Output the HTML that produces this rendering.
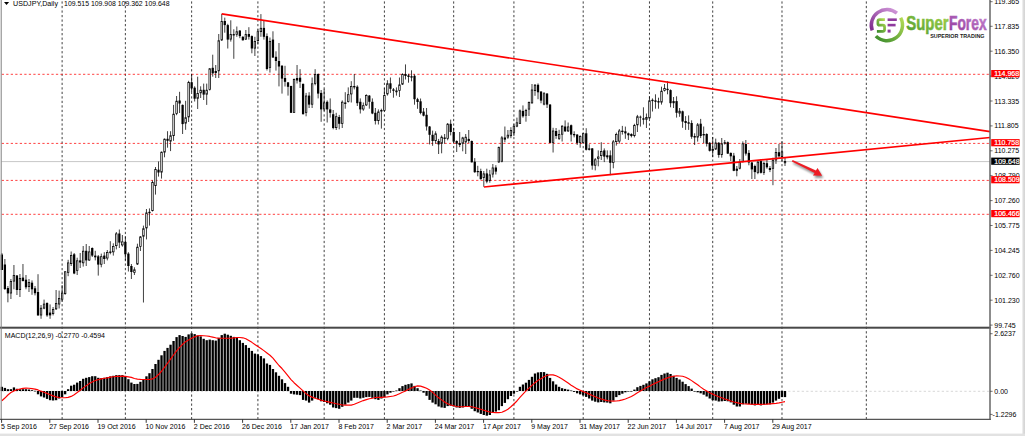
<!DOCTYPE html>
<html><head><meta charset="utf-8"><title>USDJPY Daily</title>
<style>html,body{margin:0;padding:0;background:#fff;overflow:hidden}svg{display:block}</style></head>
<body>
<svg width="1025" height="436" viewBox="0 0 1025 436" font-family="Liberation Sans, sans-serif" font-size="7.03">
<defs>
<linearGradient id="gp" x1="0" y1="1" x2="1" y2="0"><stop offset="0" stop-color="#7d2a8c"/><stop offset="1" stop-color="#d39adb"/></linearGradient>
<linearGradient id="gg" x1="0" y1="1" x2="1" y2="0"><stop offset="0" stop-color="#3a8a2c"/><stop offset="1" stop-color="#b4dc55"/></linearGradient>
<linearGradient id="tg" x1="0" y1="1" x2="1" y2="0"><stop offset="0" stop-color="#4c9a2e"/><stop offset="1" stop-color="#a9d64c"/></linearGradient>
<linearGradient id="tp" x1="0" y1="1" x2="1" y2="0"><stop offset="0" stop-color="#8d3399"/><stop offset="1" stop-color="#c988d2"/></linearGradient>
<linearGradient id="rs" x1="0" y1="0" x2="1" y2="0"><stop offset="0" stop-color="#fff"/><stop offset="0.5" stop-color="#ddd"/><stop offset="1" stop-color="#d4d4d4"/></linearGradient>
<filter id="sh" x="-20%" y="-50%" width="140%" height="200%"><feGaussianBlur stdDeviation="1.1"/></filter>
<filter id="bl"><feGaussianBlur stdDeviation="0.35"/></filter>
</defs>
<rect width="1025" height="436" fill="#fff"/>
<g id="chart">
<rect x="1021.6" y="0" width="3.4" height="436" fill="url(#rs)"/>
<rect x="0" y="433.6" width="1025" height="2.4" fill="#e2e2e2"/>
<line x1="62.12" y1="1.4" x2="62.12" y2="419.4" stroke="#000" stroke-width="0.75" stroke-dasharray="2.26 2.258"/>
<line x1="125.37" y1="1.4" x2="125.37" y2="419.4" stroke="#000" stroke-width="0.75" stroke-dasharray="2.26 2.258"/>
<line x1="191.64" y1="1.4" x2="191.64" y2="419.4" stroke="#000" stroke-width="0.75" stroke-dasharray="2.26 2.258"/>
<line x1="257.9" y1="1.4" x2="257.9" y2="419.4" stroke="#000" stroke-width="0.75" stroke-dasharray="2.26 2.258"/>
<line x1="324.16" y1="1.4" x2="324.16" y2="419.4" stroke="#000" stroke-width="0.75" stroke-dasharray="2.26 2.258"/>
<line x1="384.4" y1="1.4" x2="384.4" y2="419.4" stroke="#000" stroke-width="0.75" stroke-dasharray="2.26 2.258"/>
<line x1="453.68" y1="1.4" x2="453.68" y2="419.4" stroke="#000" stroke-width="0.75" stroke-dasharray="2.26 2.258"/>
<line x1="513.92" y1="1.4" x2="513.92" y2="419.4" stroke="#000" stroke-width="0.75" stroke-dasharray="2.26 2.258"/>
<line x1="583.2" y1="1.4" x2="583.2" y2="419.4" stroke="#000" stroke-width="0.75" stroke-dasharray="2.26 2.258"/>
<line x1="649.46" y1="1.4" x2="649.46" y2="419.4" stroke="#000" stroke-width="0.75" stroke-dasharray="2.26 2.258"/>
<line x1="712.71" y1="1.4" x2="712.71" y2="419.4" stroke="#000" stroke-width="0.75" stroke-dasharray="2.26 2.258"/>
<line x1="781.99" y1="1.4" x2="781.99" y2="419.4" stroke="#000" stroke-width="0.75" stroke-dasharray="2.26 2.258"/>
<line x1="866.32" y1="1.4" x2="866.32" y2="419.4" stroke="#000" stroke-width="0.75" stroke-dasharray="2.26 2.258"/>
<line x1="2" y1="391.3" x2="990.0" y2="391.3" stroke="#c8c8c8" stroke-width="0.75" stroke-dasharray="2.26 2.258"/>
<line x1="1.5" y1="161.6" x2="990.0" y2="161.6" stroke="#b4b4b4" stroke-width="0.75"/>
<line x1="1.7" y1="74.3" x2="990.0" y2="74.3" stroke="#f00" stroke-width="0.75" stroke-dasharray="2.26 2.258"/>
<line x1="1.7" y1="143.4" x2="990.0" y2="143.4" stroke="#f00" stroke-width="0.75" stroke-dasharray="2.26 2.258"/>
<line x1="1.7" y1="180.4" x2="990.0" y2="180.4" stroke="#f00" stroke-width="0.75" stroke-dasharray="2.26 2.258"/>
<line x1="1.7" y1="214.3" x2="990.0" y2="214.3" stroke="#f00" stroke-width="0.75" stroke-dasharray="2.26 2.258"/>
<g stroke="#000" stroke-width="0.75">
<line x1="1.88" y1="253" x2="1.88" y2="270"/>
<rect x="0.75" y="254.5" width="2.26" height="15.5" fill="#000" stroke="none"/>
<line x1="4.89" y1="259" x2="4.89" y2="290"/>
<rect x="3.76" y="264.5" width="2.26" height="24.5" fill="#000" stroke="none"/>
<line x1="7.9" y1="286" x2="7.9" y2="302.3"/>
<rect x="6.77" y="288" width="2.26" height="5.4" fill="#000" stroke="none"/>
<line x1="10.92" y1="279" x2="10.92" y2="299"/>
<rect x="10.16" y="281.38" width="1.51" height="11.65" fill="#fff"/>
<line x1="13.93" y1="265" x2="13.93" y2="289.3"/>
<rect x="13.17" y="275.38" width="1.51" height="5.75" fill="#fff"/>
<line x1="16.94" y1="275" x2="16.94" y2="295"/>
<rect x="15.81" y="275.5" width="2.26" height="14.5" fill="#000" stroke="none"/>
<line x1="19.95" y1="274" x2="19.95" y2="297"/>
<rect x="19.2" y="278.38" width="1.51" height="11.25" fill="#fff"/>
<line x1="22.96" y1="264" x2="22.96" y2="281.5"/>
<rect x="21.83" y="277.6" width="2.26" height="3.4" fill="#000" stroke="none"/>
<line x1="25.98" y1="275" x2="25.98" y2="289.3"/>
<rect x="24.85" y="279.7" width="2.26" height="7.6" fill="#000" stroke="none"/>
<line x1="28.99" y1="279" x2="28.99" y2="292"/>
<rect x="28.23" y="282.38" width="1.51" height="4.25" fill="#fff"/>
<line x1="32" y1="280.4" x2="32" y2="294.8"/>
<rect x="30.87" y="282.7" width="2.26" height="6.6" fill="#000" stroke="none"/>
<line x1="35.01" y1="286" x2="35.01" y2="295.4"/>
<rect x="33.88" y="288.3" width="2.26" height="4.9" fill="#000" stroke="none"/>
<line x1="38.02" y1="274.2" x2="38.02" y2="315.8"/>
<rect x="36.89" y="292" width="2.26" height="23.4" fill="#000" stroke="none"/>
<line x1="41.04" y1="305" x2="41.04" y2="318.8"/>
<rect x="40.28" y="308.18" width="1.51" height="6.85" fill="#fff"/>
<line x1="44.05" y1="299.6" x2="44.05" y2="309.2"/>
<rect x="43.29" y="304.08" width="1.51" height="4.05" fill="#fff"/>
<line x1="47.06" y1="302.3" x2="47.06" y2="316.8"/>
<rect x="45.93" y="303" width="2.26" height="12.4" fill="#000" stroke="none"/>
<line x1="50.07" y1="304.4" x2="50.07" y2="318.8"/>
<rect x="48.94" y="312.6" width="2.26" height="2.8" fill="#000" stroke="none"/>
<line x1="53.08" y1="307" x2="53.08" y2="315.4"/>
<rect x="52.33" y="309.58" width="1.51" height="4.05" fill="#fff"/>
<line x1="56.1" y1="290" x2="56.1" y2="310"/>
<rect x="55.34" y="303.38" width="1.51" height="5.45" fill="#fff"/>
<line x1="59.11" y1="290.6" x2="59.11" y2="308.5"/>
<rect x="58.35" y="298.58" width="1.51" height="5.45" fill="#fff"/>
<line x1="62.12" y1="285" x2="62.12" y2="301.6"/>
<rect x="61.37" y="293.08" width="1.51" height="6.15" fill="#fff"/>
<line x1="65.13" y1="271" x2="65.13" y2="294.8"/>
<rect x="64.38" y="271.78" width="1.51" height="21.85" fill="#fff"/>
<line x1="68.14" y1="259.8" x2="68.14" y2="276.2"/>
<rect x="67.39" y="262.88" width="1.51" height="9.55" fill="#fff"/>
<line x1="71.16" y1="251.5" x2="71.16" y2="266"/>
<rect x="70.4" y="255.38" width="1.51" height="8.25" fill="#fff"/>
<line x1="74.17" y1="253" x2="74.17" y2="274.2"/>
<rect x="73.04" y="254.3" width="2.26" height="19.2" fill="#000" stroke="none"/>
<line x1="77.18" y1="257.7" x2="77.18" y2="275"/>
<rect x="76.43" y="260.78" width="1.51" height="9.65" fill="#fff"/>
<line x1="80.19" y1="253" x2="80.19" y2="268"/>
<rect x="79.06" y="260.4" width="2.26" height="2.1" fill="#000" stroke="none"/>
<line x1="83.2" y1="246" x2="83.2" y2="266.6"/>
<rect x="82.45" y="251.18" width="1.51" height="11.65" fill="#fff"/>
<line x1="86.22" y1="244" x2="86.22" y2="266"/>
<rect x="85.09" y="250.8" width="2.26" height="9.6" fill="#000" stroke="none"/>
<line x1="89.23" y1="246" x2="89.23" y2="261"/>
<rect x="88.47" y="251.88" width="1.51" height="8.15" fill="#fff"/>
<line x1="92.24" y1="247.4" x2="92.24" y2="257"/>
<rect x="91.11" y="248" width="2.26" height="7.6" fill="#000" stroke="none"/>
<line x1="95.25" y1="250.8" x2="95.25" y2="260.4"/>
<rect x="94.12" y="255.6" width="2.26" height="1.7" fill="#000" stroke="none"/>
<line x1="98.26" y1="255" x2="98.26" y2="275.6"/>
<rect x="97.13" y="256.3" width="2.26" height="8.3" fill="#000" stroke="none"/>
<line x1="101.28" y1="253.6" x2="101.28" y2="267.3"/>
<rect x="100.52" y="256.68" width="1.51" height="7.55" fill="#fff"/>
<line x1="104.29" y1="252.2" x2="104.29" y2="264"/>
<rect x="103.16" y="255.6" width="2.26" height="3.4" fill="#000" stroke="none"/>
<line x1="107.3" y1="250" x2="107.3" y2="260.4"/>
<rect x="106.55" y="252.58" width="1.51" height="5.45" fill="#fff"/>
<line x1="110.31" y1="241.2" x2="110.31" y2="254.3"/>
<rect x="109.18" y="251.5" width="2.26" height="1.4" fill="#000" stroke="none"/>
<line x1="113.32" y1="243.3" x2="113.32" y2="255.6"/>
<rect x="112.57" y="246.38" width="1.51" height="5.45" fill="#fff"/>
<line x1="116.34" y1="232" x2="116.34" y2="249.4"/>
<rect x="115.58" y="233.88" width="1.51" height="11.75" fill="#fff"/>
<line x1="119.35" y1="229.5" x2="119.35" y2="248"/>
<rect x="118.22" y="233.5" width="2.26" height="9.1" fill="#000" stroke="none"/>
<line x1="122.36" y1="235" x2="122.36" y2="246.7"/>
<rect x="121.61" y="241.88" width="1.51" height="3.05" fill="#fff"/>
<line x1="125.37" y1="236.4" x2="125.37" y2="260.4"/>
<rect x="124.24" y="241.9" width="2.26" height="12.4" fill="#000" stroke="none"/>
<line x1="128.38" y1="252.2" x2="128.38" y2="271.5"/>
<rect x="127.25" y="253.6" width="2.26" height="12.4" fill="#000" stroke="none"/>
<line x1="131.4" y1="264" x2="131.4" y2="279"/>
<rect x="130.27" y="266" width="2.26" height="6" fill="#000" stroke="none"/>
<line x1="134.41" y1="267.3" x2="134.41" y2="275"/>
<rect x="133.65" y="269.78" width="1.51" height="2.65" fill="#fff"/>
<line x1="137.42" y1="243.7" x2="137.42" y2="265"/>
<rect x="136.67" y="247.18" width="1.51" height="16.85" fill="#fff"/>
<line x1="140.43" y1="236" x2="140.43" y2="251"/>
<rect x="139.68" y="236.88" width="1.51" height="9.55" fill="#fff"/>
<line x1="143.44" y1="225.6" x2="143.44" y2="302.5"/>
<rect x="142.69" y="228.68" width="1.51" height="7.55" fill="#fff"/>
<line x1="146.46" y1="209" x2="146.46" y2="239.4"/>
<rect x="145.7" y="212.88" width="1.51" height="15.05" fill="#fff"/>
<line x1="149.47" y1="208.4" x2="149.47" y2="225.6"/>
<rect x="148.34" y="211.8" width="2.26" height="1.4" fill="#000" stroke="none"/>
<line x1="152.48" y1="180.5" x2="152.48" y2="211.5"/>
<rect x="151.73" y="182.38" width="1.51" height="28.25" fill="#fff"/>
<line x1="155.49" y1="167" x2="155.49" y2="194.6"/>
<rect x="154.74" y="169.38" width="1.51" height="16.25" fill="#fff"/>
<line x1="158.5" y1="161.5" x2="158.5" y2="176.6"/>
<rect x="157.37" y="169.7" width="2.26" height="2.8" fill="#000" stroke="none"/>
<line x1="161.52" y1="151.5" x2="161.52" y2="178.6"/>
<rect x="160.76" y="152.18" width="1.51" height="19.95" fill="#fff"/>
<line x1="164.53" y1="138.5" x2="164.53" y2="157.3"/>
<rect x="163.77" y="139.18" width="1.51" height="12.95" fill="#fff"/>
<line x1="167.54" y1="131.2" x2="167.54" y2="147.7"/>
<rect x="166.41" y="138.8" width="2.26" height="2" fill="#000" stroke="none"/>
<line x1="170.55" y1="131.2" x2="170.55" y2="151.1"/>
<rect x="169.8" y="135.68" width="1.51" height="5.45" fill="#fff"/>
<line x1="173.56" y1="104.9" x2="173.56" y2="140.8"/>
<rect x="172.81" y="114.18" width="1.51" height="21.45" fill="#fff"/>
<line x1="176.58" y1="96" x2="176.58" y2="115.2"/>
<rect x="175.82" y="101.18" width="1.51" height="12.25" fill="#fff"/>
<line x1="179.59" y1="91.8" x2="179.59" y2="113"/>
<rect x="178.46" y="100.5" width="2.26" height="3" fill="#000" stroke="none"/>
<line x1="182.6" y1="104.5" x2="182.6" y2="134"/>
<rect x="181.47" y="104.9" width="2.26" height="19.2" fill="#000" stroke="none"/>
<line x1="185.61" y1="100.8" x2="185.61" y2="129.8"/>
<rect x="184.86" y="117.68" width="1.51" height="5.45" fill="#fff"/>
<line x1="188.62" y1="80.8" x2="188.62" y2="122"/>
<rect x="187.87" y="82.58" width="1.51" height="34.35" fill="#fff"/>
<line x1="191.64" y1="74" x2="191.64" y2="92"/>
<rect x="190.51" y="82.2" width="2.26" height="6.2" fill="#000" stroke="none"/>
<line x1="194.65" y1="86.3" x2="194.65" y2="101.5"/>
<rect x="193.52" y="87.7" width="2.26" height="11" fill="#000" stroke="none"/>
<line x1="197.66" y1="76.7" x2="197.66" y2="109"/>
<rect x="196.91" y="93.58" width="1.51" height="4.75" fill="#fff"/>
<line x1="200.67" y1="86.3" x2="200.67" y2="98"/>
<rect x="199.92" y="90.18" width="1.51" height="2.65" fill="#fff"/>
<line x1="203.68" y1="83.6" x2="203.68" y2="100"/>
<rect x="202.55" y="89.8" width="2.26" height="4.8" fill="#000" stroke="none"/>
<line x1="206.7" y1="83.6" x2="206.7" y2="104.9"/>
<rect x="205.94" y="90.18" width="1.51" height="4.05" fill="#fff"/>
<line x1="209.71" y1="68" x2="209.71" y2="90.5"/>
<rect x="208.95" y="68.78" width="1.51" height="20.65" fill="#fff"/>
<line x1="212.72" y1="54.7" x2="212.72" y2="76.7"/>
<rect x="211.59" y="67.8" width="2.26" height="5.5" fill="#000" stroke="none"/>
<line x1="215.73" y1="65" x2="215.73" y2="78"/>
<rect x="214.6" y="71" width="2.26" height="2" fill="#000" stroke="none"/>
<line x1="218.74" y1="34" x2="218.74" y2="78"/>
<rect x="217.99" y="40.68" width="1.51" height="30.15" fill="#fff"/>
<line x1="221.76" y1="13.9" x2="221.76" y2="41"/>
<rect x="221" y="21.38" width="1.51" height="18.55" fill="#fff"/>
<line x1="224.77" y1="17.6" x2="224.77" y2="32.7"/>
<rect x="223.64" y="21" width="2.26" height="4.1" fill="#000" stroke="none"/>
<line x1="227.78" y1="23.8" x2="227.78" y2="48.5"/>
<rect x="226.65" y="25.1" width="2.26" height="14.5" fill="#000" stroke="none"/>
<line x1="230.79" y1="20.3" x2="230.79" y2="41.6"/>
<rect x="230.04" y="34.38" width="1.51" height="4.85" fill="#fff"/>
<line x1="233.8" y1="29.3" x2="233.8" y2="58.8"/>
<rect x="233.05" y="34.38" width="1.51" height="0.75" fill="#fff"/>
<line x1="236.82" y1="26.5" x2="236.82" y2="36.8"/>
<rect x="236.06" y="31.68" width="1.51" height="2.75" fill="#fff"/>
<line x1="239.83" y1="30" x2="239.83" y2="38.2"/>
<rect x="238.7" y="30.6" width="2.26" height="5.5" fill="#000" stroke="none"/>
<line x1="242.84" y1="36.2" x2="242.84" y2="40.5"/>
<rect x="241.71" y="36.8" width="2.26" height="3.5" fill="#000" stroke="none"/>
<line x1="245.85" y1="30" x2="245.85" y2="39.8"/>
<rect x="245.1" y="34.38" width="1.51" height="4.85" fill="#fff"/>
<line x1="248.86" y1="27.2" x2="248.86" y2="39.6"/>
<rect x="247.73" y="34" width="2.26" height="2.8" fill="#000" stroke="none"/>
<line x1="251.88" y1="35.4" x2="251.88" y2="53.3"/>
<rect x="250.75" y="36.1" width="2.26" height="12.4" fill="#000" stroke="none"/>
<line x1="254.89" y1="36.8" x2="254.89" y2="56"/>
<rect x="254.13" y="41.38" width="1.51" height="6.75" fill="#fff"/>
<line x1="257.9" y1="29.3" x2="257.9" y2="44.4"/>
<rect x="257.15" y="31.68" width="1.51" height="8.95" fill="#fff"/>
<line x1="260.91" y1="14.1" x2="260.91" y2="36.8"/>
<rect x="260.16" y="28.28" width="1.51" height="3.35" fill="#fff"/>
<line x1="263.92" y1="20.3" x2="263.92" y2="39.6"/>
<rect x="262.79" y="27.9" width="2.26" height="8.9" fill="#000" stroke="none"/>
<line x1="266.94" y1="33.4" x2="266.94" y2="70.5"/>
<rect x="265.81" y="36.1" width="2.26" height="32.9" fill="#000" stroke="none"/>
<line x1="269.95" y1="37.5" x2="269.95" y2="72.6"/>
<rect x="269.19" y="41.38" width="1.51" height="26.05" fill="#fff"/>
<line x1="272.96" y1="31.3" x2="272.96" y2="58"/>
<rect x="271.83" y="39.6" width="2.26" height="17.9" fill="#000" stroke="none"/>
<line x1="275.97" y1="51.3" x2="275.97" y2="70.6"/>
<rect x="274.84" y="56.8" width="2.26" height="4.2" fill="#000" stroke="none"/>
<line x1="278.98" y1="43" x2="278.98" y2="86.4"/>
<rect x="277.85" y="61" width="2.26" height="5.5" fill="#000" stroke="none"/>
<line x1="282" y1="65" x2="282" y2="93.6"/>
<rect x="280.87" y="65.8" width="2.26" height="12.8" fill="#000" stroke="none"/>
<line x1="285.01" y1="65.8" x2="285.01" y2="86.5"/>
<rect x="283.88" y="78" width="2.26" height="3.8" fill="#000" stroke="none"/>
<line x1="288.02" y1="82" x2="288.02" y2="95.6"/>
<rect x="286.89" y="82.4" width="2.26" height="4.4" fill="#000" stroke="none"/>
<line x1="291.03" y1="85.7" x2="291.03" y2="113"/>
<rect x="289.9" y="86" width="2.26" height="26.8" fill="#000" stroke="none"/>
<line x1="294.04" y1="78.5" x2="294.04" y2="113"/>
<rect x="293.29" y="79.38" width="1.51" height="33.05" fill="#fff"/>
<line x1="297.06" y1="65" x2="297.06" y2="83.5"/>
<rect x="295.93" y="78" width="2.26" height="2.5" fill="#000" stroke="none"/>
<line x1="300.07" y1="69.2" x2="300.07" y2="88"/>
<rect x="298.94" y="77.7" width="2.26" height="4.1" fill="#000" stroke="none"/>
<line x1="303.08" y1="83.5" x2="303.08" y2="114.5"/>
<rect x="301.95" y="83.9" width="2.26" height="30.3" fill="#000" stroke="none"/>
<line x1="306.09" y1="92.9" x2="306.09" y2="116.3"/>
<rect x="305.34" y="95.98" width="1.51" height="16.45" fill="#fff"/>
<line x1="309.1" y1="92.2" x2="309.1" y2="108"/>
<rect x="307.97" y="95.6" width="2.26" height="9" fill="#000" stroke="none"/>
<line x1="312.12" y1="77.5" x2="312.12" y2="108"/>
<rect x="311.36" y="83.78" width="1.51" height="20.45" fill="#fff"/>
<line x1="315.13" y1="69.2" x2="315.13" y2="85.3"/>
<rect x="314.37" y="74.38" width="1.51" height="9.05" fill="#fff"/>
<line x1="318.14" y1="73.5" x2="318.14" y2="98.4"/>
<rect x="317.01" y="74" width="2.26" height="19.6" fill="#000" stroke="none"/>
<line x1="321.15" y1="90" x2="321.15" y2="121.8"/>
<rect x="320.02" y="92.9" width="2.26" height="16.5" fill="#000" stroke="none"/>
<line x1="324.16" y1="88.8" x2="324.16" y2="111"/>
<rect x="323.41" y="102.88" width="1.51" height="6.15" fill="#fff"/>
<line x1="327.18" y1="100.4" x2="327.18" y2="122.5"/>
<rect x="326.05" y="101.8" width="2.26" height="7.6" fill="#000" stroke="none"/>
<line x1="330.19" y1="98.4" x2="330.19" y2="117.6"/>
<rect x="329.06" y="109.4" width="2.26" height="3.4" fill="#000" stroke="none"/>
<line x1="333.2" y1="110" x2="333.2" y2="129.3"/>
<rect x="332.07" y="114.2" width="2.26" height="13.8" fill="#000" stroke="none"/>
<line x1="336.21" y1="112.8" x2="336.21" y2="130"/>
<rect x="335.46" y="116.68" width="1.51" height="10.95" fill="#fff"/>
<line x1="339.22" y1="114.9" x2="339.22" y2="129.3"/>
<rect x="338.09" y="117" width="2.26" height="6.8" fill="#000" stroke="none"/>
<line x1="342.24" y1="100.4" x2="342.24" y2="128"/>
<rect x="341.48" y="102.18" width="1.51" height="21.25" fill="#fff"/>
<line x1="345.25" y1="92.2" x2="345.25" y2="108.7"/>
<rect x="344.12" y="102.5" width="2.26" height="1.4" fill="#000" stroke="none"/>
<line x1="348.26" y1="87.4" x2="348.26" y2="102.5"/>
<rect x="347.51" y="94.68" width="1.51" height="6.75" fill="#fff"/>
<line x1="351.27" y1="81.2" x2="351.27" y2="102.5"/>
<rect x="350.52" y="86.38" width="1.51" height="7.55" fill="#fff"/>
<line x1="354.28" y1="74" x2="354.28" y2="89.4"/>
<rect x="353.15" y="86" width="2.26" height="1.4" fill="#000" stroke="none"/>
<line x1="357.3" y1="85.3" x2="357.3" y2="106"/>
<rect x="356.17" y="86.7" width="2.26" height="16.5" fill="#000" stroke="none"/>
<line x1="360.31" y1="98.4" x2="360.31" y2="113.5"/>
<rect x="359.18" y="101.8" width="2.26" height="7.6" fill="#000" stroke="none"/>
<line x1="363.32" y1="102.5" x2="363.32" y2="110.8"/>
<rect x="362.57" y="105.68" width="1.51" height="3.35" fill="#fff"/>
<line x1="366.33" y1="94.3" x2="366.33" y2="106"/>
<rect x="365.58" y="95.38" width="1.51" height="9.55" fill="#fff"/>
<line x1="369.34" y1="95" x2="369.34" y2="108.7"/>
<rect x="368.21" y="95.6" width="2.26" height="6.2" fill="#000" stroke="none"/>
<line x1="372.36" y1="98.4" x2="372.36" y2="114.2"/>
<rect x="371.23" y="101.8" width="2.26" height="11.7" fill="#000" stroke="none"/>
<line x1="375.37" y1="108" x2="375.37" y2="124.5"/>
<rect x="374.24" y="112.8" width="2.26" height="8.2" fill="#000" stroke="none"/>
<line x1="378.38" y1="109.4" x2="378.38" y2="124.5"/>
<rect x="377.63" y="111.88" width="1.51" height="8.75" fill="#fff"/>
<line x1="381.39" y1="108.7" x2="381.39" y2="128.6"/>
<rect x="380.26" y="110" width="2.26" height="1.5" fill="#000" stroke="none"/>
<line x1="384.4" y1="88" x2="384.4" y2="111.5"/>
<rect x="383.65" y="95.38" width="1.51" height="15.05" fill="#fff"/>
<line x1="387.42" y1="80.2" x2="387.42" y2="95.6"/>
<rect x="386.66" y="83.68" width="1.51" height="10.25" fill="#fff"/>
<line x1="390.43" y1="77.5" x2="390.43" y2="92.9"/>
<rect x="389.3" y="83.3" width="2.26" height="5.5" fill="#000" stroke="none"/>
<line x1="393.44" y1="88" x2="393.44" y2="97.7"/>
<rect x="392.31" y="89.4" width="2.26" height="1.4" fill="#000" stroke="none"/>
<line x1="396.45" y1="87.4" x2="396.45" y2="95.6"/>
<rect x="395.7" y="90.88" width="1.51" height="0.95" fill="#fff"/>
<line x1="399.46" y1="77.5" x2="399.46" y2="97"/>
<rect x="398.71" y="84.88" width="1.51" height="5.55" fill="#fff"/>
<line x1="402.48" y1="73.3" x2="402.48" y2="85"/>
<rect x="401.72" y="74.38" width="1.51" height="9.75" fill="#fff"/>
<line x1="405.49" y1="64.4" x2="405.49" y2="79.5"/>
<rect x="404.36" y="74" width="2.26" height="2" fill="#000" stroke="none"/>
<line x1="408.5" y1="73.8" x2="408.5" y2="82.7"/>
<rect x="407.37" y="75.4" width="2.26" height="1.6" fill="#000" stroke="none"/>
<line x1="411.51" y1="70.3" x2="411.51" y2="81.3"/>
<rect x="410.38" y="76.2" width="2.26" height="1.4" fill="#000" stroke="none"/>
<line x1="414.52" y1="74.4" x2="414.52" y2="104.7"/>
<rect x="413.39" y="75.8" width="2.26" height="23.4" fill="#000" stroke="none"/>
<line x1="417.54" y1="97.8" x2="417.54" y2="108.8"/>
<rect x="416.41" y="99.2" width="2.26" height="2.8" fill="#000" stroke="none"/>
<line x1="420.55" y1="98.5" x2="420.55" y2="114.3"/>
<rect x="419.42" y="101.3" width="2.26" height="11.7" fill="#000" stroke="none"/>
<line x1="423.56" y1="108" x2="423.56" y2="116.4"/>
<rect x="422.43" y="111.6" width="2.26" height="4.1" fill="#000" stroke="none"/>
<line x1="426.57" y1="108" x2="426.57" y2="130.6"/>
<rect x="425.44" y="114.8" width="2.26" height="11.7" fill="#000" stroke="none"/>
<line x1="429.58" y1="126" x2="429.58" y2="144.4"/>
<rect x="428.45" y="126.5" width="2.26" height="8.3" fill="#000" stroke="none"/>
<line x1="432.6" y1="130.6" x2="432.6" y2="145.8"/>
<rect x="431.47" y="134.8" width="2.26" height="6.2" fill="#000" stroke="none"/>
<line x1="435.61" y1="131.3" x2="435.61" y2="143.7"/>
<rect x="434.85" y="133.78" width="1.51" height="6.85" fill="#fff"/>
<line x1="438.62" y1="138.9" x2="438.62" y2="154"/>
<rect x="437.49" y="141" width="2.26" height="3.4" fill="#000" stroke="none"/>
<line x1="441.63" y1="135.4" x2="441.63" y2="153.3"/>
<rect x="440.88" y="137.18" width="1.51" height="6.15" fill="#fff"/>
<line x1="444.64" y1="134" x2="444.64" y2="143.7"/>
<rect x="443.51" y="137.5" width="2.26" height="1.4" fill="#000" stroke="none"/>
<line x1="447.66" y1="123" x2="447.66" y2="140.3"/>
<rect x="446.9" y="124.18" width="1.51" height="14.35" fill="#fff"/>
<line x1="450.67" y1="119.6" x2="450.67" y2="135.4"/>
<rect x="449.54" y="123.8" width="2.26" height="8.2" fill="#000" stroke="none"/>
<line x1="453.68" y1="127.9" x2="453.68" y2="143"/>
<rect x="452.55" y="132" width="2.26" height="9.6" fill="#000" stroke="none"/>
<line x1="456.69" y1="140.3" x2="456.69" y2="152"/>
<rect x="455.56" y="141" width="2.26" height="2.7" fill="#000" stroke="none"/>
<line x1="459.7" y1="132" x2="459.7" y2="147.1"/>
<rect x="458.57" y="143" width="2.26" height="2" fill="#000" stroke="none"/>
<line x1="462.72" y1="136.8" x2="462.72" y2="151.3"/>
<rect x="461.96" y="137.88" width="1.51" height="5.45" fill="#fff"/>
<line x1="465.73" y1="134" x2="465.73" y2="154"/>
<rect x="464.97" y="137.18" width="1.51" height="4.75" fill="#fff"/>
<line x1="468.74" y1="130" x2="468.74" y2="143"/>
<rect x="467.61" y="138.9" width="2.26" height="2.1" fill="#000" stroke="none"/>
<line x1="471.75" y1="140.5" x2="471.75" y2="162.5"/>
<rect x="470.62" y="141" width="2.26" height="21.3" fill="#000" stroke="none"/>
<line x1="474.76" y1="158.1" x2="474.76" y2="172.8"/>
<rect x="473.63" y="161.7" width="2.26" height="10.5" fill="#000" stroke="none"/>
<line x1="477.78" y1="165.8" x2="477.78" y2="176.3"/>
<rect x="476.65" y="171" width="2.26" height="1.2" fill="#000" stroke="none"/>
<line x1="480.79" y1="168.7" x2="480.79" y2="179.5"/>
<rect x="479.66" y="171" width="2.26" height="8.2" fill="#000" stroke="none"/>
<line x1="483.8" y1="171" x2="483.8" y2="186.8"/>
<rect x="483.05" y="173.78" width="1.51" height="3.85" fill="#fff"/>
<line x1="486.81" y1="168.7" x2="486.81" y2="183.3"/>
<rect x="485.68" y="173.4" width="2.26" height="8.2" fill="#000" stroke="none"/>
<line x1="489.82" y1="169.9" x2="489.82" y2="182.7"/>
<rect x="489.07" y="174.88" width="1.51" height="5.75" fill="#fff"/>
<line x1="492.84" y1="164" x2="492.84" y2="177.5"/>
<rect x="492.08" y="167.88" width="1.51" height="6.25" fill="#fff"/>
<line x1="495.85" y1="165.2" x2="495.85" y2="174.5"/>
<rect x="494.72" y="167.5" width="2.26" height="4.1" fill="#000" stroke="none"/>
<line x1="498.86" y1="146.5" x2="498.86" y2="163"/>
<rect x="498.11" y="147.48" width="1.51" height="14.45" fill="#fff"/>
<line x1="501.87" y1="136.1" x2="501.87" y2="162.3"/>
<rect x="501.12" y="137.88" width="1.51" height="23.35" fill="#fff"/>
<line x1="504.88" y1="126.5" x2="504.88" y2="142.3"/>
<rect x="503.75" y="137.5" width="2.26" height="2.1" fill="#000" stroke="none"/>
<line x1="507.9" y1="130" x2="507.9" y2="138.9"/>
<rect x="507.14" y="135.18" width="1.51" height="1.95" fill="#fff"/>
<line x1="510.91" y1="127.2" x2="510.91" y2="138.2"/>
<rect x="510.15" y="130.38" width="1.51" height="5.35" fill="#fff"/>
<line x1="513.92" y1="123.8" x2="513.92" y2="136.1"/>
<rect x="513.17" y="126.18" width="1.51" height="6.15" fill="#fff"/>
<line x1="516.93" y1="117.6" x2="516.93" y2="127.2"/>
<rect x="516.18" y="122.78" width="1.51" height="3.35" fill="#fff"/>
<line x1="519.94" y1="109.5" x2="519.94" y2="124"/>
<rect x="519.19" y="110.88" width="1.51" height="12.55" fill="#fff"/>
<line x1="522.96" y1="105.4" x2="522.96" y2="117.7"/>
<rect x="521.83" y="110.9" width="2.26" height="5.4" fill="#000" stroke="none"/>
<line x1="525.97" y1="108.8" x2="525.97" y2="121.7"/>
<rect x="525.21" y="110.58" width="1.51" height="4.65" fill="#fff"/>
<line x1="528.98" y1="101.5" x2="528.98" y2="116"/>
<rect x="528.23" y="102.38" width="1.51" height="6.75" fill="#fff"/>
<line x1="531.99" y1="84" x2="531.99" y2="103.5"/>
<rect x="531.24" y="89.98" width="1.51" height="12.95" fill="#fff"/>
<line x1="535" y1="84" x2="535" y2="95.8"/>
<rect x="534.25" y="85.18" width="1.51" height="5.45" fill="#fff"/>
<line x1="538.02" y1="83.4" x2="538.02" y2="99.2"/>
<rect x="536.89" y="84.8" width="2.26" height="7.5" fill="#000" stroke="none"/>
<line x1="541.03" y1="91" x2="541.03" y2="103.3"/>
<rect x="539.9" y="91.6" width="2.26" height="9" fill="#000" stroke="none"/>
<line x1="544.04" y1="92" x2="544.04" y2="105.3"/>
<rect x="543.29" y="93.68" width="1.51" height="10.45" fill="#fff"/>
<line x1="547.05" y1="93" x2="547.05" y2="108"/>
<rect x="545.92" y="93.6" width="2.26" height="11" fill="#000" stroke="none"/>
<line x1="550.06" y1="104" x2="550.06" y2="143"/>
<rect x="548.93" y="104.6" width="2.26" height="38.3" fill="#000" stroke="none"/>
<line x1="553.08" y1="127.8" x2="553.08" y2="152.5"/>
<rect x="552.32" y="130.98" width="1.51" height="11.55" fill="#fff"/>
<line x1="556.09" y1="128" x2="556.09" y2="138.8"/>
<rect x="554.96" y="131" width="2.26" height="5" fill="#000" stroke="none"/>
<line x1="559.1" y1="129.8" x2="559.1" y2="140"/>
<rect x="558.35" y="134.38" width="1.51" height="4.05" fill="#fff"/>
<line x1="562.11" y1="125.2" x2="562.11" y2="141.5"/>
<rect x="561.36" y="126.18" width="1.51" height="8.05" fill="#fff"/>
<line x1="565.12" y1="120.4" x2="565.12" y2="132"/>
<rect x="563.99" y="126.5" width="2.26" height="4.8" fill="#000" stroke="none"/>
<line x1="568.14" y1="122.5" x2="568.14" y2="132"/>
<rect x="567.38" y="126.88" width="1.51" height="4.05" fill="#fff"/>
<line x1="571.15" y1="124.5" x2="571.15" y2="141.5"/>
<rect x="570.02" y="125.2" width="2.26" height="9.4" fill="#000" stroke="none"/>
<line x1="574.16" y1="131.3" x2="574.16" y2="137.4"/>
<rect x="573.03" y="134" width="2.26" height="1.3" fill="#000" stroke="none"/>
<line x1="577.17" y1="134" x2="577.17" y2="145"/>
<rect x="576.04" y="134.6" width="2.26" height="8.3" fill="#000" stroke="none"/>
<line x1="580.18" y1="135.3" x2="580.18" y2="147.7"/>
<rect x="579.43" y="136.38" width="1.51" height="6.15" fill="#fff"/>
<line x1="583.2" y1="132.8" x2="583.2" y2="143.5"/>
<rect x="582.44" y="133.68" width="1.51" height="8.85" fill="#fff"/>
<line x1="586.21" y1="128.2" x2="586.21" y2="150.5"/>
<rect x="585.08" y="133.3" width="2.26" height="16.5" fill="#000" stroke="none"/>
<line x1="589.22" y1="144.3" x2="589.22" y2="150.5"/>
<rect x="588.09" y="148.4" width="2.26" height="1.4" fill="#000" stroke="none"/>
<line x1="592.23" y1="148" x2="592.23" y2="169.7"/>
<rect x="591.1" y="148.4" width="2.26" height="17.2" fill="#000" stroke="none"/>
<line x1="595.24" y1="158" x2="595.24" y2="170.4"/>
<rect x="594.49" y="159.78" width="1.51" height="5.45" fill="#fff"/>
<line x1="598.26" y1="150.4" x2="598.26" y2="166.3"/>
<rect x="597.5" y="156.98" width="1.51" height="1.35" fill="#fff"/>
<line x1="601.27" y1="142.2" x2="601.27" y2="160"/>
<rect x="600.51" y="151.48" width="1.51" height="4.15" fill="#fff"/>
<line x1="604.28" y1="148.4" x2="604.28" y2="162.1"/>
<rect x="603.15" y="150.4" width="2.26" height="6.2" fill="#000" stroke="none"/>
<line x1="607.29" y1="150.4" x2="607.29" y2="159.4"/>
<rect x="606.16" y="155.3" width="2.26" height="2" fill="#000" stroke="none"/>
<line x1="610.3" y1="150.4" x2="610.3" y2="175.2"/>
<rect x="609.17" y="155.3" width="2.26" height="7.5" fill="#000" stroke="none"/>
<line x1="613.32" y1="140" x2="613.32" y2="168.3"/>
<rect x="612.56" y="141.88" width="1.51" height="20.55" fill="#fff"/>
<line x1="616.33" y1="132.6" x2="616.33" y2="145.6"/>
<rect x="615.57" y="134.38" width="1.51" height="7.25" fill="#fff"/>
<line x1="619.34" y1="129" x2="619.34" y2="143.6"/>
<rect x="618.59" y="130.98" width="1.51" height="10.15" fill="#fff"/>
<line x1="622.35" y1="125.9" x2="622.35" y2="134.6"/>
<rect x="621.22" y="130.7" width="2.26" height="1.3" fill="#000" stroke="none"/>
<line x1="625.36" y1="126.6" x2="625.36" y2="138.8"/>
<rect x="624.23" y="131.3" width="2.26" height="2.1" fill="#000" stroke="none"/>
<line x1="628.38" y1="132.6" x2="628.38" y2="140"/>
<rect x="627.25" y="133.3" width="2.26" height="2" fill="#000" stroke="none"/>
<line x1="631.39" y1="133.3" x2="631.39" y2="137.4"/>
<rect x="630.26" y="134" width="2.26" height="2" fill="#000" stroke="none"/>
<line x1="634.4" y1="123.8" x2="634.4" y2="137.4"/>
<rect x="633.65" y="125.58" width="1.51" height="10.05" fill="#fff"/>
<line x1="637.41" y1="114.9" x2="637.41" y2="132"/>
<rect x="636.66" y="116.68" width="1.51" height="8.15" fill="#fff"/>
<line x1="640.42" y1="115.6" x2="640.42" y2="126.6"/>
<rect x="639.29" y="116.7" width="2.26" height="0.9" fill="#000" stroke="none"/>
<line x1="643.44" y1="107.3" x2="643.44" y2="124.5"/>
<rect x="642.31" y="118.3" width="2.26" height="1.4" fill="#000" stroke="none"/>
<line x1="646.45" y1="113.5" x2="646.45" y2="128"/>
<rect x="645.69" y="117.38" width="1.51" height="1.95" fill="#fff"/>
<line x1="649.46" y1="96.3" x2="649.46" y2="119"/>
<rect x="648.71" y="100.78" width="1.51" height="17.15" fill="#fff"/>
<line x1="652.47" y1="98.4" x2="652.47" y2="111.5"/>
<rect x="651.34" y="99.8" width="2.26" height="1.3" fill="#000" stroke="none"/>
<line x1="655.48" y1="94.3" x2="655.48" y2="108.7"/>
<rect x="654.35" y="100.4" width="2.26" height="1.4" fill="#000" stroke="none"/>
<line x1="658.5" y1="97.7" x2="658.5" y2="108.7"/>
<rect x="657.37" y="101.1" width="2.26" height="1.4" fill="#000" stroke="none"/>
<line x1="661.51" y1="86.7" x2="661.51" y2="104.6"/>
<rect x="660.75" y="91.18" width="1.51" height="10.95" fill="#fff"/>
<line x1="664.52" y1="84" x2="664.52" y2="91.5"/>
<rect x="663.77" y="88.38" width="1.51" height="2.05" fill="#fff"/>
<line x1="667.53" y1="81.2" x2="667.53" y2="94.3"/>
<rect x="666.4" y="88.8" width="2.26" height="1.3" fill="#000" stroke="none"/>
<line x1="670.54" y1="89.4" x2="670.54" y2="107.3"/>
<rect x="669.41" y="90.1" width="2.26" height="13.1" fill="#000" stroke="none"/>
<line x1="673.56" y1="97" x2="673.56" y2="108"/>
<rect x="672.43" y="101.1" width="2.26" height="2.1" fill="#000" stroke="none"/>
<line x1="676.57" y1="96.3" x2="676.57" y2="117.6"/>
<rect x="675.44" y="101.1" width="2.26" height="11.7" fill="#000" stroke="none"/>
<line x1="679.58" y1="108" x2="679.58" y2="116.8"/>
<rect x="678.83" y="111.18" width="1.51" height="1.95" fill="#fff"/>
<line x1="682.59" y1="110.6" x2="682.59" y2="127.8"/>
<rect x="681.46" y="111.3" width="2.26" height="10.3" fill="#000" stroke="none"/>
<line x1="685.6" y1="116.1" x2="685.6" y2="129.9"/>
<rect x="684.47" y="121" width="2.26" height="2" fill="#000" stroke="none"/>
<line x1="688.62" y1="115.4" x2="688.62" y2="129.9"/>
<rect x="687.49" y="122.3" width="2.26" height="1.4" fill="#000" stroke="none"/>
<line x1="691.63" y1="120.3" x2="691.63" y2="138.8"/>
<rect x="690.5" y="123" width="2.26" height="13.8" fill="#000" stroke="none"/>
<line x1="694.64" y1="133.3" x2="694.64" y2="145"/>
<rect x="693.51" y="136" width="2.26" height="1.5" fill="#000" stroke="none"/>
<line x1="697.65" y1="123" x2="697.65" y2="141.6"/>
<rect x="696.9" y="124.78" width="1.51" height="12.35" fill="#fff"/>
<line x1="700.66" y1="118.9" x2="700.66" y2="138.1"/>
<rect x="699.53" y="123.7" width="2.26" height="12.3" fill="#000" stroke="none"/>
<line x1="703.68" y1="126.5" x2="703.68" y2="143"/>
<rect x="702.55" y="134" width="2.26" height="1.4" fill="#000" stroke="none"/>
<line x1="706.69" y1="133.3" x2="706.69" y2="146.5"/>
<rect x="705.56" y="134" width="2.26" height="9.8" fill="#000" stroke="none"/>
<line x1="709.7" y1="142" x2="709.7" y2="151.5"/>
<rect x="708.57" y="142.8" width="2.26" height="8" fill="#000" stroke="none"/>
<line x1="712.71" y1="137" x2="712.71" y2="157"/>
<rect x="711.58" y="148.8" width="2.26" height="2" fill="#000" stroke="none"/>
<line x1="715.72" y1="138.6" x2="715.72" y2="150"/>
<rect x="714.97" y="142.98" width="1.51" height="6.05" fill="#fff"/>
<line x1="718.74" y1="142" x2="718.74" y2="157.7"/>
<rect x="717.61" y="142.8" width="2.26" height="12.2" fill="#000" stroke="none"/>
<line x1="721.75" y1="138" x2="721.75" y2="157.7"/>
<rect x="720.99" y="143.68" width="1.51" height="10.95" fill="#fff"/>
<line x1="724.76" y1="140" x2="724.76" y2="144.6"/>
<rect x="723.63" y="142.3" width="2.26" height="1.3" fill="#000" stroke="none"/>
<line x1="727.77" y1="141.5" x2="727.77" y2="154"/>
<rect x="726.64" y="142.2" width="2.26" height="11.4" fill="#000" stroke="none"/>
<line x1="730.78" y1="152.5" x2="730.78" y2="161"/>
<rect x="729.65" y="152.9" width="2.26" height="3.4" fill="#000" stroke="none"/>
<line x1="733.8" y1="152.9" x2="733.8" y2="171.2"/>
<rect x="732.67" y="155.6" width="2.26" height="15.2" fill="#000" stroke="none"/>
<line x1="736.81" y1="166" x2="736.81" y2="176.3"/>
<rect x="735.68" y="168.7" width="2.26" height="2.1" fill="#000" stroke="none"/>
<line x1="739.82" y1="159" x2="739.82" y2="169.4"/>
<rect x="739.07" y="162.18" width="1.51" height="6.15" fill="#fff"/>
<line x1="742.83" y1="141.4" x2="742.83" y2="162.5"/>
<rect x="742.08" y="143.68" width="1.51" height="17.75" fill="#fff"/>
<line x1="745.84" y1="140" x2="745.84" y2="155.6"/>
<rect x="744.71" y="144" width="2.26" height="9.6" fill="#000" stroke="none"/>
<line x1="748.86" y1="150.1" x2="748.86" y2="165.3"/>
<rect x="747.73" y="152.9" width="2.26" height="9.6" fill="#000" stroke="none"/>
<line x1="751.87" y1="162" x2="751.87" y2="179"/>
<rect x="750.74" y="162.5" width="2.26" height="6.9" fill="#000" stroke="none"/>
<line x1="754.88" y1="164.6" x2="754.88" y2="179"/>
<rect x="753.75" y="166" width="2.26" height="6.1" fill="#000" stroke="none"/>
<line x1="757.89" y1="161" x2="757.89" y2="174.2"/>
<rect x="757.14" y="162.18" width="1.51" height="10.25" fill="#fff"/>
<line x1="760.9" y1="159" x2="760.9" y2="173.5"/>
<rect x="759.77" y="161.1" width="2.26" height="11.7" fill="#000" stroke="none"/>
<line x1="763.92" y1="161.8" x2="763.92" y2="174.9"/>
<rect x="763.16" y="163.58" width="1.51" height="8.85" fill="#fff"/>
<line x1="766.93" y1="159" x2="766.93" y2="168.7"/>
<rect x="765.8" y="163.2" width="2.26" height="4.1" fill="#000" stroke="none"/>
<line x1="769.94" y1="166" x2="769.94" y2="172.1"/>
<rect x="768.81" y="168" width="2.26" height="2" fill="#000" stroke="none"/>
<line x1="772.95" y1="157.7" x2="772.95" y2="185.2"/>
<rect x="772.2" y="160.18" width="1.51" height="8.15" fill="#fff"/>
<line x1="775.96" y1="148" x2="775.96" y2="163.9"/>
<rect x="775.21" y="152.58" width="1.51" height="7.45" fill="#fff"/>
<line x1="778.98" y1="144" x2="778.98" y2="157.7"/>
<rect x="777.85" y="152.2" width="2.26" height="4.1" fill="#000" stroke="none"/>
<line x1="781.99" y1="141.2" x2="781.99" y2="161.8"/>
<rect x="781.23" y="151.88" width="1.51" height="4.75" fill="#fff"/>
<line x1="785" y1="157" x2="785" y2="166"/>
<rect x="784.25" y="161.38" width="1.51" height="1.45" fill="#fff"/>
</g>
<line x1="221.7" y1="13.9" x2="990.0" y2="131.6" stroke="#f00" stroke-width="1.7"/>
<line x1="483.9" y1="187.0" x2="990.0" y2="137.5" stroke="#f00" stroke-width="1.7"/>
<path d="M792.62 159.92 L815.91 170.41 L817.56 168.08 L822.15 175.87 L812.98 175.53 L814.63 173.09 L791.85 161.57 Z" fill="#000" opacity="0.45" filter="url(#sh)" transform="translate(1.2,2.2)"/>
<path d="M792.62 159.92 L815.91 170.41 L817.56 168.08 L822.15 175.87 L812.98 175.53 L814.63 173.09 L791.85 161.57 Z" fill="#ee1c24"/>
<g fill="#000">
<rect x="0.73" y="386.8" width="2.3" height="4.2"/>
<rect x="3.74" y="387.9" width="2.3" height="3.1"/>
<rect x="6.75" y="389.2" width="2.3" height="1.8"/>
<rect x="9.77" y="389.2" width="2.3" height="1.8"/>
<rect x="12.78" y="387.4" width="2.3" height="3.6"/>
<rect x="15.79" y="388.8" width="2.3" height="2.2"/>
<rect x="18.8" y="389.2" width="2.3" height="1.8"/>
<rect x="21.81" y="389.2" width="2.3" height="1.8"/>
<rect x="24.83" y="389.2" width="2.3" height="1.8"/>
<rect x="27.84" y="389.5" width="2.3" height="1.5"/>
<rect x="30.85" y="390.2" width="2.3" height="0.8"/>
<rect x="33.86" y="390.8" width="2.3" height="0.6"/>
<rect x="36.87" y="391" width="2.3" height="3.3"/>
<rect x="39.89" y="391" width="2.3" height="5.4"/>
<rect x="42.9" y="391" width="2.3" height="6.5"/>
<rect x="45.91" y="391" width="2.3" height="7.9"/>
<rect x="48.92" y="391" width="2.3" height="9.2"/>
<rect x="51.93" y="391" width="2.3" height="9.5"/>
<rect x="54.95" y="391" width="2.3" height="9.2"/>
<rect x="57.96" y="391" width="2.3" height="7.5"/>
<rect x="60.97" y="391" width="2.3" height="6"/>
<rect x="63.98" y="391" width="2.3" height="3.3"/>
<rect x="66.99" y="389.2" width="2.3" height="1.8"/>
<rect x="70.01" y="385.7" width="2.3" height="5.3"/>
<rect x="73.02" y="384.7" width="2.3" height="6.3"/>
<rect x="76.03" y="382.6" width="2.3" height="8.4"/>
<rect x="79.04" y="381" width="2.3" height="10"/>
<rect x="82.05" y="378.8" width="2.3" height="12.2"/>
<rect x="85.07" y="377.8" width="2.3" height="13.2"/>
<rect x="88.08" y="377.1" width="2.3" height="13.9"/>
<rect x="91.09" y="376.2" width="2.3" height="14.8"/>
<rect x="94.1" y="376.2" width="2.3" height="14.8"/>
<rect x="97.11" y="377.8" width="2.3" height="13.2"/>
<rect x="100.13" y="378.2" width="2.3" height="12.8"/>
<rect x="103.14" y="377.8" width="2.3" height="13.2"/>
<rect x="106.15" y="377.1" width="2.3" height="13.9"/>
<rect x="109.16" y="376.4" width="2.3" height="14.6"/>
<rect x="112.17" y="375.8" width="2.3" height="15.2"/>
<rect x="115.19" y="375.1" width="2.3" height="15.9"/>
<rect x="118.2" y="375.1" width="2.3" height="15.9"/>
<rect x="121.21" y="375.1" width="2.3" height="15.9"/>
<rect x="124.22" y="376.4" width="2.3" height="14.6"/>
<rect x="127.23" y="379.2" width="2.3" height="11.8"/>
<rect x="130.25" y="382.6" width="2.3" height="8.4"/>
<rect x="133.26" y="384" width="2.3" height="7"/>
<rect x="136.27" y="383.9" width="2.3" height="7.1"/>
<rect x="139.28" y="381.8" width="2.3" height="9.2"/>
<rect x="142.29" y="379.8" width="2.3" height="11.2"/>
<rect x="145.31" y="376.3" width="2.3" height="14.7"/>
<rect x="148.32" y="373.2" width="2.3" height="17.8"/>
<rect x="151.33" y="369" width="2.3" height="22"/>
<rect x="154.34" y="364" width="2.3" height="27"/>
<rect x="157.35" y="359.8" width="2.3" height="31.2"/>
<rect x="160.37" y="355.3" width="2.3" height="35.7"/>
<rect x="163.38" y="350.9" width="2.3" height="40.1"/>
<rect x="166.39" y="347.9" width="2.3" height="43.1"/>
<rect x="169.4" y="344.7" width="2.3" height="46.3"/>
<rect x="172.41" y="341" width="2.3" height="50"/>
<rect x="175.43" y="337.1" width="2.3" height="53.9"/>
<rect x="178.44" y="335.1" width="2.3" height="55.9"/>
<rect x="181.45" y="336" width="2.3" height="55"/>
<rect x="184.46" y="336.9" width="2.3" height="54.1"/>
<rect x="187.47" y="334.4" width="2.3" height="56.6"/>
<rect x="190.49" y="333.3" width="2.3" height="57.7"/>
<rect x="193.5" y="334.1" width="2.3" height="56.9"/>
<rect x="196.51" y="335.5" width="2.3" height="55.5"/>
<rect x="199.52" y="336.4" width="2.3" height="54.6"/>
<rect x="202.53" y="338.8" width="2.3" height="52.2"/>
<rect x="205.55" y="340.2" width="2.3" height="50.8"/>
<rect x="208.56" y="339.6" width="2.3" height="51.4"/>
<rect x="211.57" y="340.2" width="2.3" height="50.8"/>
<rect x="214.58" y="340.6" width="2.3" height="50.4"/>
<rect x="217.59" y="337.8" width="2.3" height="53.2"/>
<rect x="220.61" y="335.1" width="2.3" height="55.9"/>
<rect x="223.62" y="333.7" width="2.3" height="57.3"/>
<rect x="226.63" y="334.7" width="2.3" height="56.3"/>
<rect x="229.64" y="335.8" width="2.3" height="55.2"/>
<rect x="232.65" y="336.9" width="2.3" height="54.1"/>
<rect x="235.67" y="337.8" width="2.3" height="53.2"/>
<rect x="238.68" y="340.2" width="2.3" height="50.8"/>
<rect x="241.69" y="342.9" width="2.3" height="48.1"/>
<rect x="244.7" y="345.1" width="2.3" height="45.9"/>
<rect x="247.71" y="347.9" width="2.3" height="43.1"/>
<rect x="250.73" y="350.9" width="2.3" height="40.1"/>
<rect x="253.74" y="353.6" width="2.3" height="37.4"/>
<rect x="256.75" y="354.3" width="2.3" height="36.7"/>
<rect x="259.76" y="356.1" width="2.3" height="34.9"/>
<rect x="262.77" y="358.4" width="2.3" height="32.6"/>
<rect x="265.79" y="363.5" width="2.3" height="27.5"/>
<rect x="268.8" y="364.9" width="2.3" height="26.1"/>
<rect x="271.81" y="369" width="2.3" height="22"/>
<rect x="274.82" y="372.3" width="2.3" height="18.7"/>
<rect x="277.83" y="375.8" width="2.3" height="15.2"/>
<rect x="280.85" y="379.3" width="2.3" height="11.7"/>
<rect x="283.86" y="383.1" width="2.3" height="7.9"/>
<rect x="286.87" y="386.8" width="2.3" height="4.2"/>
<rect x="289.88" y="391" width="2.3" height="2.7"/>
<rect x="292.89" y="391" width="2.3" height="3.4"/>
<rect x="295.91" y="391" width="2.3" height="3.7"/>
<rect x="298.92" y="391" width="2.3" height="4.1"/>
<rect x="301.93" y="391" width="2.3" height="8.9"/>
<rect x="304.94" y="391" width="2.3" height="9.6"/>
<rect x="307.95" y="391" width="2.3" height="11.6"/>
<rect x="310.97" y="391" width="2.3" height="9.6"/>
<rect x="313.98" y="391" width="2.3" height="6.8"/>
<rect x="316.99" y="391" width="2.3" height="8.2"/>
<rect x="320" y="391" width="2.3" height="10.3"/>
<rect x="323.01" y="391" width="2.3" height="11"/>
<rect x="326.03" y="391" width="2.3" height="12.3"/>
<rect x="329.04" y="391" width="2.3" height="13.7"/>
<rect x="332.05" y="391" width="2.3" height="16.5"/>
<rect x="335.06" y="391" width="2.3" height="17.1"/>
<rect x="338.07" y="391" width="2.3" height="17.8"/>
<rect x="341.09" y="391" width="2.3" height="15.8"/>
<rect x="344.1" y="391" width="2.3" height="13.7"/>
<rect x="347.11" y="391" width="2.3" height="11.6"/>
<rect x="350.12" y="391" width="2.3" height="9.6"/>
<rect x="353.13" y="391" width="2.3" height="6.8"/>
<rect x="356.15" y="391" width="2.3" height="6.8"/>
<rect x="359.16" y="391" width="2.3" height="7.5"/>
<rect x="362.17" y="391" width="2.3" height="6.8"/>
<rect x="365.18" y="391" width="2.3" height="6.1"/>
<rect x="368.19" y="391" width="2.3" height="5.9"/>
<rect x="371.21" y="391" width="2.3" height="6.8"/>
<rect x="374.22" y="391" width="2.3" height="8.2"/>
<rect x="377.23" y="391" width="2.3" height="8.9"/>
<rect x="380.24" y="391" width="2.3" height="7.5"/>
<rect x="383.25" y="391" width="2.3" height="6.1"/>
<rect x="386.27" y="391" width="2.3" height="3.4"/>
<rect x="389.28" y="391" width="2.3" height="1.7"/>
<rect x="392.29" y="391" width="2.3" height="0.6"/>
<rect x="395.3" y="390.5" width="2.3" height="0.6"/>
<rect x="398.31" y="388.2" width="2.3" height="2.8"/>
<rect x="401.33" y="386.1" width="2.3" height="4.9"/>
<rect x="404.34" y="384.8" width="2.3" height="6.2"/>
<rect x="407.35" y="384.1" width="2.3" height="6.9"/>
<rect x="410.36" y="383.4" width="2.3" height="7.6"/>
<rect x="413.37" y="385.9" width="2.3" height="5.1"/>
<rect x="416.39" y="388.2" width="2.3" height="2.8"/>
<rect x="419.4" y="390.5" width="2.3" height="0.6"/>
<rect x="422.41" y="391" width="2.3" height="1.7"/>
<rect x="425.42" y="391" width="2.3" height="4.8"/>
<rect x="428.43" y="391" width="2.3" height="8.9"/>
<rect x="431.45" y="391" width="2.3" height="11.6"/>
<rect x="434.46" y="391" width="2.3" height="13.3"/>
<rect x="437.47" y="391" width="2.3" height="15.5"/>
<rect x="440.48" y="391" width="2.3" height="16.5"/>
<rect x="443.49" y="391" width="2.3" height="16.9"/>
<rect x="446.51" y="391" width="2.3" height="15.1"/>
<rect x="449.52" y="391" width="2.3" height="14.7"/>
<rect x="452.53" y="391" width="2.3" height="15.5"/>
<rect x="455.54" y="391" width="2.3" height="16.5"/>
<rect x="458.55" y="391" width="2.3" height="16.9"/>
<rect x="461.57" y="391" width="2.3" height="16.5"/>
<rect x="464.58" y="391" width="2.3" height="15.8"/>
<rect x="467.59" y="391" width="2.3" height="15.8"/>
<rect x="470.6" y="391" width="2.3" height="17.8"/>
<rect x="473.61" y="391" width="2.3" height="20.2"/>
<rect x="476.63" y="391" width="2.3" height="21.5"/>
<rect x="479.64" y="391" width="2.3" height="22.9"/>
<rect x="482.65" y="391" width="2.3" height="24"/>
<rect x="485.66" y="391" width="2.3" height="24.7"/>
<rect x="488.67" y="391" width="2.3" height="24"/>
<rect x="491.69" y="391" width="2.3" height="22"/>
<rect x="494.7" y="391" width="2.3" height="20.6"/>
<rect x="497.71" y="391" width="2.3" height="19.2"/>
<rect x="500.72" y="391" width="2.3" height="15.1"/>
<rect x="503.73" y="391" width="2.3" height="11.9"/>
<rect x="506.75" y="391" width="2.3" height="8.2"/>
<rect x="509.76" y="391" width="2.3" height="5"/>
<rect x="512.77" y="391" width="2.3" height="2.7"/>
<rect x="515.78" y="391" width="2.3" height="0.6"/>
<rect x="518.79" y="386.8" width="2.3" height="4.2"/>
<rect x="521.81" y="384.5" width="2.3" height="6.5"/>
<rect x="524.82" y="382.7" width="2.3" height="8.3"/>
<rect x="527.83" y="379.9" width="2.3" height="11.1"/>
<rect x="530.84" y="376.8" width="2.3" height="14.2"/>
<rect x="533.85" y="373.5" width="2.3" height="17.5"/>
<rect x="536.87" y="372.4" width="2.3" height="18.6"/>
<rect x="539.88" y="372.1" width="2.3" height="18.9"/>
<rect x="542.89" y="372.1" width="2.3" height="18.9"/>
<rect x="545.9" y="373.8" width="2.3" height="17.2"/>
<rect x="548.91" y="377.9" width="2.3" height="13.1"/>
<rect x="551.93" y="381.3" width="2.3" height="9.7"/>
<rect x="554.94" y="384.5" width="2.3" height="6.5"/>
<rect x="557.95" y="386.8" width="2.3" height="4.2"/>
<rect x="560.96" y="388.2" width="2.3" height="2.8"/>
<rect x="563.97" y="388.9" width="2.3" height="2.1"/>
<rect x="566.99" y="389.6" width="2.3" height="1.4"/>
<rect x="570" y="390.5" width="2.3" height="0.6"/>
<rect x="573.01" y="391" width="2.3" height="0.9"/>
<rect x="576.02" y="391" width="2.3" height="2.3"/>
<rect x="579.03" y="391" width="2.3" height="3.4"/>
<rect x="582.05" y="391" width="2.3" height="4.5"/>
<rect x="585.06" y="391" width="2.3" height="5.9"/>
<rect x="588.07" y="391" width="2.3" height="7.5"/>
<rect x="591.08" y="391" width="2.3" height="9.6"/>
<rect x="594.09" y="391" width="2.3" height="10.7"/>
<rect x="597.11" y="391" width="2.3" height="11.4"/>
<rect x="600.12" y="391" width="2.3" height="11"/>
<rect x="603.13" y="391" width="2.3" height="11.4"/>
<rect x="606.14" y="391" width="2.3" height="11.6"/>
<rect x="609.15" y="391" width="2.3" height="12.3"/>
<rect x="612.17" y="391" width="2.3" height="9.6"/>
<rect x="615.18" y="391" width="2.3" height="6.1"/>
<rect x="618.19" y="391" width="2.3" height="4.1"/>
<rect x="621.2" y="391" width="2.3" height="2.7"/>
<rect x="624.21" y="391" width="2.3" height="1.3"/>
<rect x="627.23" y="391" width="2.3" height="0.6"/>
<rect x="630.24" y="391" width="2.3" height="0.6"/>
<rect x="633.25" y="389.6" width="2.3" height="1.4"/>
<rect x="636.26" y="387.2" width="2.3" height="3.8"/>
<rect x="639.27" y="385.9" width="2.3" height="5.1"/>
<rect x="642.29" y="384.8" width="2.3" height="6.2"/>
<rect x="645.3" y="383.4" width="2.3" height="7.6"/>
<rect x="648.31" y="381.3" width="2.3" height="9.7"/>
<rect x="651.32" y="379.3" width="2.3" height="11.7"/>
<rect x="654.33" y="378.2" width="2.3" height="12.8"/>
<rect x="657.35" y="377.2" width="2.3" height="13.8"/>
<rect x="660.36" y="374.9" width="2.3" height="16.1"/>
<rect x="663.37" y="373.5" width="2.3" height="17.5"/>
<rect x="666.38" y="372.7" width="2.3" height="18.3"/>
<rect x="669.39" y="374" width="2.3" height="17"/>
<rect x="672.41" y="375.8" width="2.3" height="15.2"/>
<rect x="675.42" y="377.9" width="2.3" height="13.1"/>
<rect x="678.43" y="379.5" width="2.3" height="11.5"/>
<rect x="681.44" y="381.7" width="2.3" height="9.3"/>
<rect x="684.45" y="384.1" width="2.3" height="6.9"/>
<rect x="687.47" y="386.1" width="2.3" height="4.9"/>
<rect x="690.48" y="388.6" width="2.3" height="2.4"/>
<rect x="693.49" y="391" width="2.3" height="0.6"/>
<rect x="696.5" y="391" width="2.3" height="1.3"/>
<rect x="699.51" y="391" width="2.3" height="2.3"/>
<rect x="702.53" y="391" width="2.3" height="3.7"/>
<rect x="705.54" y="391" width="2.3" height="5.5"/>
<rect x="708.55" y="391" width="2.3" height="7.5"/>
<rect x="711.56" y="391" width="2.3" height="9.2"/>
<rect x="714.57" y="391" width="2.3" height="9.6"/>
<rect x="717.59" y="391" width="2.3" height="10.5"/>
<rect x="720.6" y="391" width="2.3" height="10.3"/>
<rect x="723.61" y="391" width="2.3" height="10"/>
<rect x="726.62" y="391" width="2.3" height="10.3"/>
<rect x="729.63" y="391" width="2.3" height="11.4"/>
<rect x="732.65" y="391" width="2.3" height="13.7"/>
<rect x="735.66" y="391" width="2.3" height="15.5"/>
<rect x="738.67" y="391" width="2.3" height="15.5"/>
<rect x="741.68" y="391" width="2.3" height="13.3"/>
<rect x="744.69" y="391" width="2.3" height="12.7"/>
<rect x="747.71" y="391" width="2.3" height="13"/>
<rect x="750.72" y="391" width="2.3" height="13.7"/>
<rect x="753.73" y="391" width="2.3" height="14.4"/>
<rect x="756.74" y="391" width="2.3" height="13.7"/>
<rect x="759.75" y="391" width="2.3" height="14.4"/>
<rect x="762.77" y="391" width="2.3" height="13.7"/>
<rect x="765.78" y="391" width="2.3" height="13.3"/>
<rect x="768.79" y="391" width="2.3" height="13.3"/>
<rect x="771.8" y="391" width="2.3" height="11.6"/>
<rect x="774.81" y="391" width="2.3" height="9.6"/>
<rect x="777.83" y="391" width="2.3" height="7.8"/>
<rect x="780.84" y="391" width="2.3" height="6.1"/>
<rect x="783.85" y="391" width="2.3" height="6.1"/>
</g>
<polyline points="1.88,400.79 4.89,398.04 7.9,395.01 10.92,392.54 13.93,390.89 16.94,389.79 19.95,388.96 22.96,388.41 25.98,388.13 28.99,388.27 32,388.69 35.01,389.1 38.02,389.92 41.04,391.16 44.05,392.26 47.06,393.36 50.07,394.74 53.08,395.84 56.1,396.94 59.11,397.49 62.12,397.76 65.13,397.76 68.14,397.35 71.16,396.39 74.17,394.74 77.18,392.54 80.19,390.2 83.2,387.86 86.22,385.66 89.23,383.6 92.24,381.94 95.25,380.57 98.26,379.61 101.28,378.92 104.29,378.23 107.3,377.82 110.31,377.13 113.32,376.72 116.34,376.44 119.35,376.31 122.36,376.17 125.37,376.44 128.38,376.86 131.4,377.41 134.41,378.51 137.42,379.14 140.43,379.41 143.44,379.49 146.46,379.49 149.47,379.49 152.48,378.94 155.49,377.29 158.5,374.54 161.52,371.24 164.53,367.39 167.54,363.26 170.55,359.13 173.56,355.01 176.58,350.88 179.59,347.44 182.6,344.28 185.61,341.67 188.62,339.88 191.64,338.23 194.65,336.85 197.66,335.75 200.67,335.48 203.68,335.75 206.7,336.03 209.71,336.44 212.72,337.13 215.73,337.81 218.74,338.23 221.76,338.23 224.77,338.23 227.78,338.23 230.79,338.23 233.8,337.81 236.82,337.54 239.83,337.54 242.84,337.81 245.85,338.78 248.86,340.57 251.88,342.35 254.89,344.42 257.9,346.48 260.91,348.54 263.92,350.61 266.94,352.94 269.95,355.28 272.96,358.17 275.97,361.84 278.98,365.5 282,368.53 285.01,372.1 288.02,375.82 291.03,379.53 294.04,382.7 297.06,385.45 300.07,388.2 303.08,390.95 306.09,393.7 309.1,395.76 312.12,397.14 315.13,398.24 318.14,399.2 321.15,400.17 324.16,400.99 327.18,401.68 330.19,402.37 333.2,403.05 336.21,403.74 339.22,404.29 342.24,404.98 345.25,405.12 348.26,405.12 351.27,405.12 354.28,404.29 357.3,402.92 360.31,401.68 363.32,400.58 366.33,399.61 369.34,398.79 372.36,398.24 375.37,397.55 378.38,397.41 381.39,397.41 384.4,397.14 387.42,396.86 390.43,396.45 393.44,396.04 396.45,395.08 399.46,393.7 402.48,392.32 405.49,391.09 408.5,389.23 411.51,387.92 414.52,386.82 417.54,385.86 420.55,386.13 423.56,387.1 426.57,388.2 429.58,389.99 432.6,392.32 435.61,395.08 438.62,397.83 441.63,399.89 444.64,401.95 447.66,403.74 450.67,404.98 453.68,405.8 456.69,406.49 459.7,406.77 462.72,406.77 465.73,406.49 468.74,406.49 471.75,406.77 474.76,407.46 477.78,408.42 480.79,409.24 483.8,410.21 486.81,411.17 489.82,411.99 492.84,412.54 495.85,412.68 498.86,412.68 501.87,412.27 504.88,410.89 507.9,409.24 510.91,406.77 513.92,404.02 516.93,400.99 519.94,397.41 522.96,394.11 525.97,390.95 528.98,388.2 531.99,385.45 535,382.7 538.02,380.36 541.03,378.78 544.04,376.85 547.05,375.41 550.06,374.72 553.08,374.86 556.09,375.82 559.1,377.19 562.11,378.98 565.12,380.91 568.14,382.97 571.15,385.17 574.16,387.1 577.17,388.89 580.18,390.26 583.2,391.64 586.21,392.74 589.22,394.11 592.23,395.49 595.24,396.73 598.26,397.96 601.27,398.93 604.28,399.89 607.29,400.58 610.3,400.99 613.32,401.13 616.33,400.99 619.34,400.58 622.35,399.89 625.36,398.93 628.38,397.83 631.39,396.45 634.4,394.66 637.41,392.74 640.42,390.95 643.44,389.3 646.45,387.51 649.46,386.13 652.47,384.48 655.48,383.11 658.5,381.73 661.51,380.36 664.52,378.98 667.53,377.88 670.54,376.92 673.56,376.23 676.57,375.82 679.58,375.96 682.59,376.23 685.6,377.19 688.62,378.84 691.63,380.63 694.64,382.7 697.65,384.76 700.66,387.1 703.68,389.16 706.69,390.95 709.7,392.74 712.71,394.11 715.72,395.49 718.74,396.73 721.75,397.83 724.76,398.93 727.77,399.89 730.78,400.99 733.8,401.95 736.81,402.64 739.82,403.33 742.83,403.74 745.84,404.02 748.86,404.15 751.87,404.29 754.88,404.43 757.89,404.43 760.9,404.43 763.92,404.29 766.93,404.15 769.94,403.88 772.95,403.6 775.96,403.33 778.98,402.92 781.99,402.23 785,401.68" fill="none" stroke="#f00" stroke-width="1.15" stroke-linejoin="round"/>
<rect x="0" y="326.7" width="990.8" height="2.0" fill="#484848"/>
<line x1="1.2" y1="0" x2="1.2" y2="419.4" stroke="#808080" stroke-width="1"/>
<line x1="990.0" y1="0" x2="990.0" y2="420.1" stroke="#666" stroke-width="1.5"/>
<line x1="0" y1="419.4" x2="990.75" y2="419.4" stroke="#555" stroke-width="1.15"/>
<line x1="990.0" y1="325.1" x2="992.6" y2="325.1" stroke="#444" stroke-width="0.75"/>
<text x="994.3" y="327.65" fill="#000">99.745</text>
<line x1="990.0" y1="300.2" x2="992.6" y2="300.2" stroke="#444" stroke-width="0.75"/>
<text x="994.3" y="302.75" fill="#000">101.230</text>
<line x1="990.0" y1="275.3" x2="992.6" y2="275.3" stroke="#444" stroke-width="0.75"/>
<text x="994.3" y="277.85" fill="#000">102.760</text>
<line x1="990.0" y1="250.4" x2="992.6" y2="250.4" stroke="#444" stroke-width="0.75"/>
<text x="994.3" y="252.95" fill="#000">104.245</text>
<line x1="990.0" y1="225.5" x2="992.6" y2="225.5" stroke="#444" stroke-width="0.75"/>
<text x="994.3" y="228.05" fill="#000">105.775</text>
<line x1="990.0" y1="200.6" x2="992.6" y2="200.6" stroke="#444" stroke-width="0.75"/>
<text x="994.3" y="203.15" fill="#000">107.260</text>
<line x1="990.0" y1="175.7" x2="992.6" y2="175.7" stroke="#444" stroke-width="0.75"/>
<text x="994.3" y="178.25" fill="#000">108.790</text>
<line x1="990.0" y1="150.8" x2="992.6" y2="150.8" stroke="#444" stroke-width="0.75"/>
<text x="994.3" y="153.35" fill="#000">110.275</text>
<line x1="990.0" y1="125.9" x2="992.6" y2="125.9" stroke="#444" stroke-width="0.75"/>
<text x="994.3" y="128.45" fill="#000">111.805</text>
<line x1="990.0" y1="101" x2="992.6" y2="101" stroke="#444" stroke-width="0.75"/>
<text x="994.3" y="103.55" fill="#000">113.335</text>
<line x1="990.0" y1="76.1" x2="992.6" y2="76.1" stroke="#444" stroke-width="0.75"/>
<text x="994.3" y="78.65" fill="#000">114.820</text>
<line x1="990.0" y1="51.2" x2="992.6" y2="51.2" stroke="#444" stroke-width="0.75"/>
<text x="994.3" y="53.75" fill="#000">116.350</text>
<line x1="990.0" y1="26.3" x2="992.6" y2="26.3" stroke="#444" stroke-width="0.75"/>
<text x="994.3" y="28.85" fill="#000">117.835</text>
<line x1="990.0" y1="1.7" x2="992.6" y2="1.7" stroke="#444" stroke-width="0.75"/>
<text x="994.3" y="4.25" fill="#000">119.365</text>
<line x1="990.0" y1="333.7" x2="992.6" y2="333.7" stroke="#444" stroke-width="0.75"/>
<text x="994.3" y="336.25" fill="#000">2.6237</text>
<line x1="990.0" y1="391.3" x2="992.6" y2="391.3" stroke="#444" stroke-width="0.75"/>
<text x="994.3" y="393.85" fill="#000">0.00</text>
<line x1="990.0" y1="414.4" x2="992.6" y2="414.4" stroke="#444" stroke-width="0.75"/>
<text x="992.6" y="416.95" fill="#000">-1.2296</text>
<rect x="991.2" y="70" width="28.4" height="7.2" fill="#f00"/>
<text x="994.3" y="76.15" fill="#fff" stroke="#fff" stroke-width="0.2">114.968</text>
<rect x="991.2" y="139.1" width="28.4" height="7.2" fill="#f00"/>
<text x="994.3" y="145.25" fill="#fff" stroke="#fff" stroke-width="0.2">110.758</text>
<rect x="991.2" y="176.1" width="28.4" height="7.2" fill="#f00"/>
<text x="994.3" y="182.25" fill="#fff" stroke="#fff" stroke-width="0.2">108.509</text>
<rect x="991.2" y="210" width="28.4" height="7.2" fill="#f00"/>
<text x="994.3" y="216.15" fill="#fff" stroke="#fff" stroke-width="0.2">106.466</text>
<rect x="991.2" y="157.6" width="28.4" height="7.2" fill="#000"/>
<text x="994.3" y="163.75" fill="#fff" stroke="#fff" stroke-width="0.2">109.648</text>
<line x1="1.6" y1="419.4" x2="1.6" y2="422.8" stroke="#222" stroke-width="0.9"/>
<text x="1" y="429.25" fill="#000">5 Sep 2016</text>
<line x1="49.8" y1="419.4" x2="49.8" y2="422.8" stroke="#222" stroke-width="0.9"/>
<text x="49.2" y="429.25" fill="#000">27 Sep 2016</text>
<line x1="98" y1="419.4" x2="98" y2="422.8" stroke="#222" stroke-width="0.9"/>
<text x="97.4" y="429.25" fill="#000">19 Oct 2016</text>
<line x1="146.2" y1="419.4" x2="146.2" y2="422.8" stroke="#222" stroke-width="0.9"/>
<text x="145.6" y="429.25" fill="#000">10 Nov 2016</text>
<line x1="194.4" y1="419.4" x2="194.4" y2="422.8" stroke="#222" stroke-width="0.9"/>
<text x="193.8" y="429.25" fill="#000">2 Dec 2016</text>
<line x1="242.6" y1="419.4" x2="242.6" y2="422.8" stroke="#222" stroke-width="0.9"/>
<text x="242" y="429.25" fill="#000">26 Dec 2016</text>
<line x1="290.8" y1="419.4" x2="290.8" y2="422.8" stroke="#222" stroke-width="0.9"/>
<text x="290.2" y="429.25" fill="#000">17 Jan 2017</text>
<line x1="339" y1="419.4" x2="339" y2="422.8" stroke="#222" stroke-width="0.9"/>
<text x="338.4" y="429.25" fill="#000">8 Feb 2017</text>
<line x1="387.2" y1="419.4" x2="387.2" y2="422.8" stroke="#222" stroke-width="0.9"/>
<text x="386.6" y="429.25" fill="#000">2 Mar 2017</text>
<line x1="435.4" y1="419.4" x2="435.4" y2="422.8" stroke="#222" stroke-width="0.9"/>
<text x="434.8" y="429.25" fill="#000">24 Mar 2017</text>
<line x1="483.6" y1="419.4" x2="483.6" y2="422.8" stroke="#222" stroke-width="0.9"/>
<text x="483" y="429.25" fill="#000">17 Apr 2017</text>
<line x1="531.8" y1="419.4" x2="531.8" y2="422.8" stroke="#222" stroke-width="0.9"/>
<text x="531.2" y="429.25" fill="#000">9 May 2017</text>
<line x1="580" y1="419.4" x2="580" y2="422.8" stroke="#222" stroke-width="0.9"/>
<text x="579.4" y="429.25" fill="#000">31 May 2017</text>
<line x1="628.2" y1="419.4" x2="628.2" y2="422.8" stroke="#222" stroke-width="0.9"/>
<text x="627.6" y="429.25" fill="#000">22 Jun 2017</text>
<line x1="676.4" y1="419.4" x2="676.4" y2="422.8" stroke="#222" stroke-width="0.9"/>
<text x="675.8" y="429.25" fill="#000">14 Jul 2017</text>
<line x1="724.6" y1="419.4" x2="724.6" y2="422.8" stroke="#222" stroke-width="0.9"/>
<text x="724" y="429.25" fill="#000">7 Aug 2017</text>
<line x1="772.8" y1="419.4" x2="772.8" y2="422.8" stroke="#222" stroke-width="0.9"/>
<text x="772.2" y="429.25" fill="#000">29 Aug 2017</text>
<path d="M4 2.1 L9.1 2.1 L6.55 5 Z" fill="#000"/>
<text x="13.1" y="6.05" fill="#000" textLength="44.9" lengthAdjust="spacingAndGlyphs">USDJPY,Daily</text>
<text x="64.1" y="6.05" fill="#000" textLength="105.4" lengthAdjust="spacingAndGlyphs">109.515 109.908 109.362 109.648</text>
<text x="4.8" y="338.15" fill="#000">MACD(12,26,9) -0.2770 -0.4594</text>
</g>
<g id="logo">
<path d="M872.24 30.44 A15.6 15.6 0 0 1 896.93 13.15" fill="none" stroke="url(#gp)" stroke-width="3.5"/>
<path d="M900.67 17.78 A15.6 15.6 0 0 1 875.87 36.13" fill="none" stroke="url(#gg)" stroke-width="3.5"/>
<path d="M884.9 19.6 H879.6 Q877.9 19.6 877.9 21.3 V23.4 Q877.9 25.2 879.6 25.2 H882.9 Q884.6 25.2 884.6 27 V29.6 Q884.6 31.4 882.9 31.4 H876.9" fill="none" stroke="url(#gg)" stroke-width="2.7"/>
<g fill="#8f3a9e"><rect x="887.6" y="18.4" width="9.2" height="2.6"/><rect x="887.6" y="23.8" width="8" height="2.6"/><rect x="887.6" y="29.6" width="3" height="3"/></g>
<text x="906.3" y="30.4" font-size="19.5" font-weight="bold" fill="url(#tg)" stroke="url(#tg)" stroke-width="0.55" textLength="42.3" lengthAdjust="spacingAndGlyphs">Super</text>
<text x="949" y="30.4" font-size="19.5" font-weight="bold" fill="url(#tp)" stroke="url(#tp)" stroke-width="0.55" textLength="37.6" lengthAdjust="spacingAndGlyphs">Forex</text>
<text x="930.2" y="37.8" font-size="6" font-weight="bold" fill="#222" textLength="54.3" lengthAdjust="spacingAndGlyphs">SUPERIOR TRADING</text>
</g>
</svg>
</body></html>
